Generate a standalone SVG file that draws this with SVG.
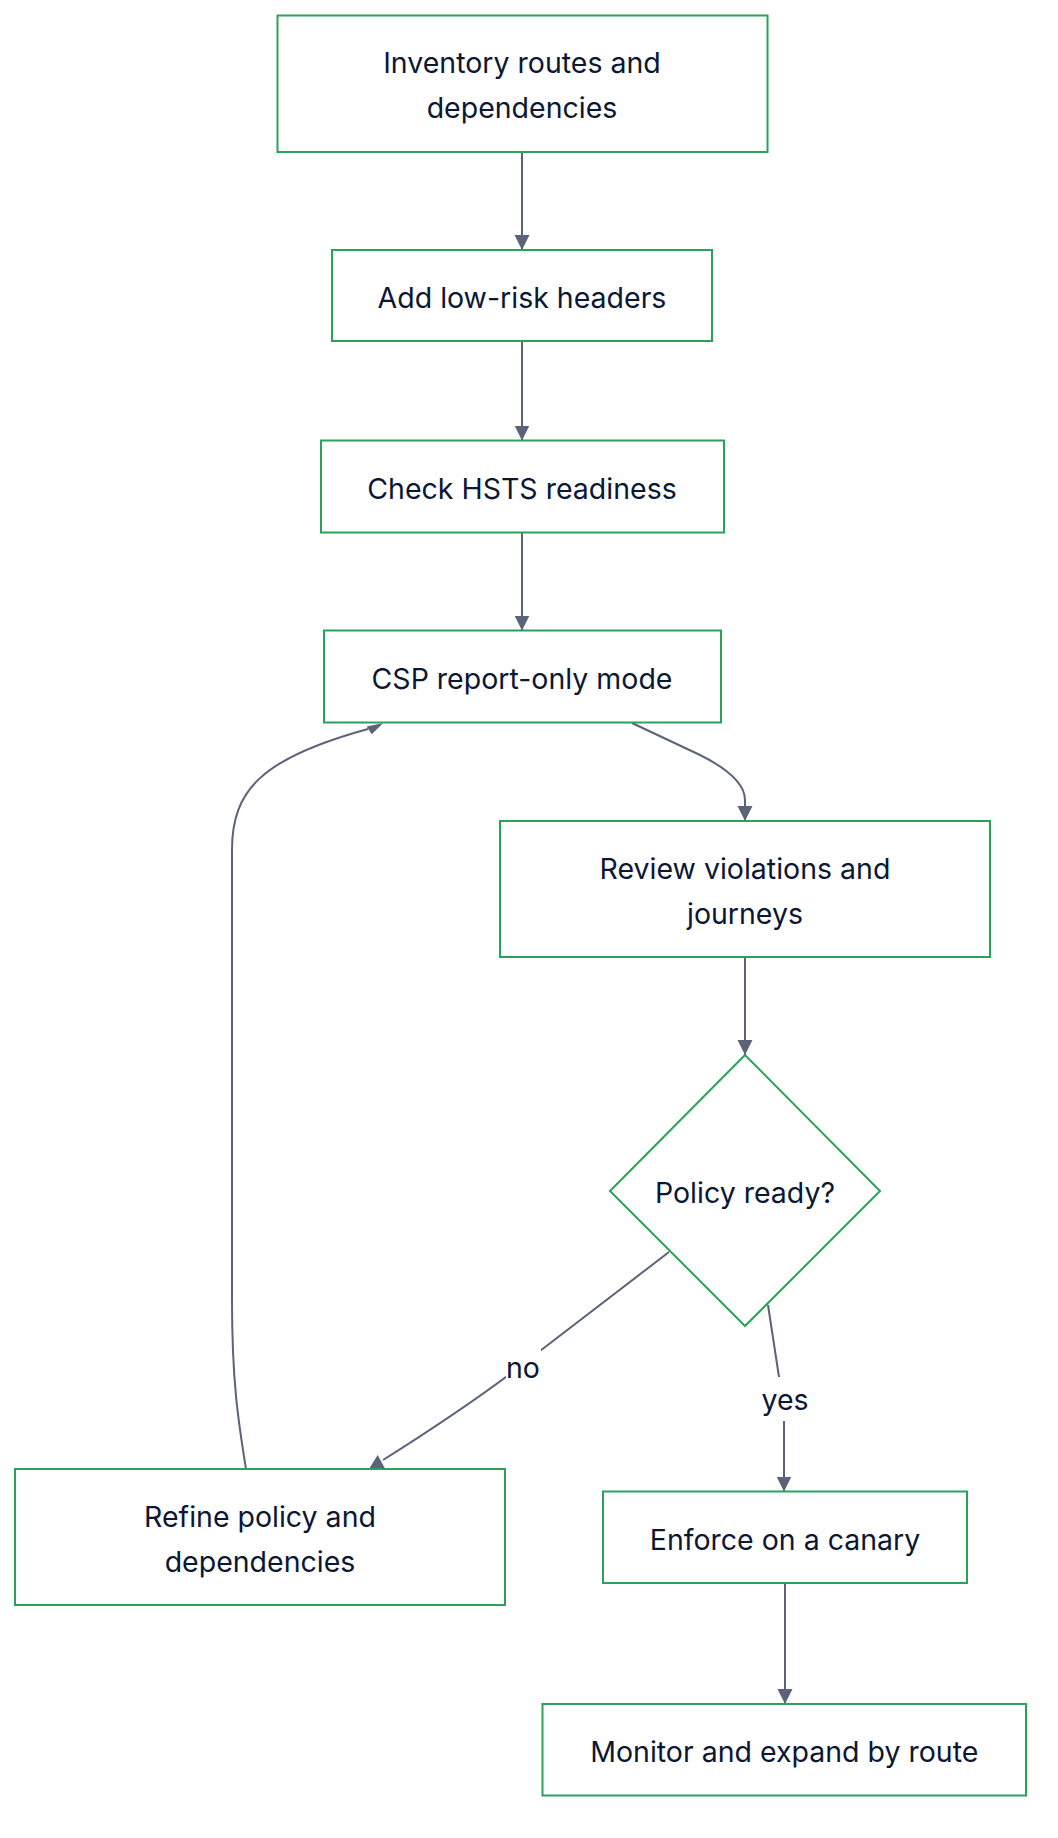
<svg xmlns="http://www.w3.org/2000/svg" width="1058" height="1838" viewBox="0 0 1058 1838">
<style>
.node rect,.node polygon{fill:#ffffff;stroke:#28a35a;stroke-width:2}
.node text,.lbl text{font-family:Inter,"Liberation Sans",sans-serif;font-size:28.5px;fill:#0b1733;text-anchor:middle}
.edge{fill:none;stroke:#5a6378;stroke-width:2}
.head{fill:#5a6378}
.lbl rect{fill:#ffffff}
</style>
<defs>
<marker id="arr" viewBox="0 0 10 10" refX="10" refY="5" markerUnits="userSpaceOnUse" markerWidth="15" markerHeight="16" orient="auto">
<path d="M0,0 L10,5 L0,10 z" fill="#5a6378"/>
</marker>
</defs>
<rect width="1058" height="1838" fill="#ffffff"/>
<g id="connectors">
<path class="edge" d="M522,152 L522,250" marker-end="url(#arr)"/>
<path class="edge" d="M522,341 L522,440.5" marker-end="url(#arr)"/>
<path class="edge" d="M522,532.5 L522,630.5" marker-end="url(#arr)"/>
<path class="edge" d="M632,723 L700,755 C730,770 745,785 745,800 L745,821" marker-end="url(#arr)"/>
<path class="edge" d="M745,957 L745,1055" marker-end="url(#arr)"/>
<path class="edge" d="M669,1252 L523,1364 Q470,1405 383,1460"/>
<polygon class="head" points="369.3,1468.5 385,1468.5 377.7,1455"/>
<path class="edge" d="M768,1305 L781,1390 L784,1420 L784,1491.5" marker-end="url(#arr)"/>
<path class="edge" d="M246,1469 C238,1420 232,1380 232,1300 L232,850 C232,790 262,758 368,729"/>
<polygon class="head" points="366.7,726.5 383.3,723 371.7,734.3"/>
<path class="edge" d="M785,1583 L785,1704" marker-end="url(#arr)"/>
<g class="lbl" id="label-no"><rect x="506" y="1346" width="35" height="42"/><text x="523" y="1378">no</text></g>
<g class="lbl" id="label-yes"><rect x="762" y="1377" width="46" height="44"/><text x="785" y="1410">yes</text></g>
</g>
<g id="n1" class="node"><rect x="277.5" y="15.5" width="490" height="136.5"/><text x="522" y="73.3">Inventory routes and</text><text x="522" y="118.3">dependencies</text></g>
<g id="n2" class="node"><rect x="332" y="250" width="380" height="91"/><text x="522" y="307.7">Add low-risk headers</text></g>
<g id="n3" class="node"><rect x="321" y="440.5" width="403" height="92"/><text x="522" y="498.7">Check HSTS readiness</text></g>
<g id="n4" class="node"><rect x="324" y="630.5" width="397" height="92"/><text x="522" y="688.7">CSP report-only mode</text></g>
<g id="n5" class="node"><rect x="500" y="821" width="490" height="136"/><text x="745" y="878.8">Review violations and</text><text x="745" y="923.8">journeys</text></g>
<g id="n6" class="node"><polygon points="745,1055 880,1191 745,1326 610,1191"/><text x="745" y="1203.2">Policy ready?</text></g>
<g id="n7" class="node"><rect x="15" y="1469" width="490" height="136"/><text x="260" y="1526.8">Refine policy and</text><text x="260" y="1571.8">dependencies</text></g>
<g id="n8" class="node"><rect x="603" y="1491.5" width="364" height="91.5"/><text x="785" y="1549.5">Enforce on a canary</text></g>
<g id="n9" class="node"><rect x="542.5" y="1704" width="483.5" height="91.5"/><text x="784.3" y="1762">Monitor and expand by route</text></g>
</svg>
